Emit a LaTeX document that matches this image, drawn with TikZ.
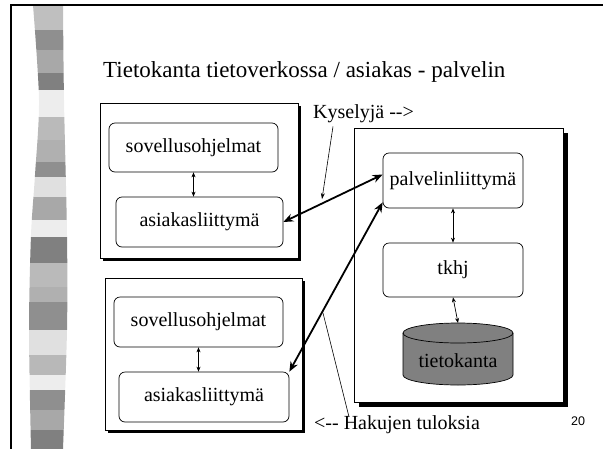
\documentclass[tikz,border=0pt]{standalone}
\usepackage{fontspec}
\setmainfont{Liberation Serif}
\newfontfamily\pagenumfont{Liberation Sans}
\usetikzlibrary{arrows.meta,shadows,calc}

% plain hyphens, kept apart so they do not merge into a dash
\newcommand{\hy}{-\kern0pt}

\begin{document}
\begin{tikzpicture}[x=1pt,y=-1pt,
  panel/.style={draw, fill=white, line width=0.8pt, inner sep=0pt},
  shadowA/.style={general shadow={fill=black, shadow xshift=3pt, shadow yshift=-3pt}},
  shadowB/.style={general shadow={fill=black, shadow xshift=5pt, shadow yshift=-5pt}},
  unit/.style={draw, fill=white, rounded corners=6pt, line width=0.7pt, inner sep=0pt,
    font=\fontsize{20}{24}\selectfont},
  link/.style={line width=0.7pt, {Stealth[length=5pt,width=4pt]}-{Stealth[length=5pt,width=4pt]}},
  net/.style={line width=1.8pt, {Stealth[length=10pt,width=8pt]}-{Stealth[length=10pt,width=8pt]}},
  note/.style={font=\fontsize{20}{24}\selectfont, inner sep=0pt, anchor=base west},
  pointer/.style={line width=0.6pt},
]
\useasboundingbox (0,0) rectangle (603,448);

% decorative stripe on the left
\begin{scope}
  \clip plot[smooth] coordinates {(33,5) (39,100) (35,175) (31,235) (29,330) (31,449)}
     -- plot[smooth] coordinates {(63,449) (67,330) (67,235) (64,100) (63,5)} -- cycle;
  \foreach \ya/\yb/\c in {5/30/25, 30/50/44, 50/73/34, 73/90/50, 90/117/7, 117/140/27,
      140/162/31, 162/177/44, 177/197/12, 197/220/34, 220/237/7, 237/263/50,
      263/287/27, 287/302/31, 302/330/44, 330/355/12, 355/375/28, 375/390/7,
      390/410/44, 410/430/34, 430/449/50}
    \fill[black!\c] (20,\ya) rectangle (80,\yb);
\end{scope}

% slide frame
\draw[line width=2pt] (11,449) -- (11,5) -- (604,5);

% title
\node[note, font=\fontsize{23}{27}\selectfont] (title) at (103,77)
  {Tietokanta tietoverkossa / asiakas \hy\ palvelin};

% client and server panels
\node[panel, shadowA, minimum width=198pt, minimum height=155pt] (client1) at (199,180.5) {};
\node[panel, shadowA, minimum width=197pt, minimum height=152pt] (client2) at (203.5,354) {};
\node[panel, shadowB, minimum width=209pt, minimum height=274pt] (server) at (458.5,265) {};

% client 1
\node[unit, minimum width=169pt, minimum height=49pt] (sov1) at (193.5,147.5) {sovellusohjelmat};
\node[unit, minimum width=167pt, minimum height=50pt] (asi1) at (199.5,222) {asiakasliittymä};
\draw[link] (sov1.south) -- (sov1.south |- asi1.north);

% client 2
\node[unit, minimum width=169pt, minimum height=50pt] (sov2) at (198.5,322) {sovellusohjelmat};
\node[unit, minimum width=170pt, minimum height=50pt] (asi2) at (204,397) {asiakasliittymä};
\draw[link] (sov2.south) -- (sov2.south |- asi2.north);

% server
\node[unit, minimum width=140pt, minimum height=55pt] (pal) at (453,180.5) {palvelinliittymä};
\node[unit, minimum width=140pt, minimum height=54pt] (tkhj) at (453,270) {tkhj};
\fill[black!50] (403,333) -- (403,375)
  arc[start angle=180, end angle=360, x radius=55pt, y radius=10pt]
  -- (513,333) arc[start angle=0, end angle=180, x radius=55pt, y radius=10pt] -- cycle;
\draw[line width=0.7pt] (403,333) -- (403,375)
  arc[start angle=180, end angle=360, x radius=55pt, y radius=10pt]
  -- (513,333) arc[start angle=0, end angle=180, x radius=55pt, y radius=10pt];
\draw[line width=0.7pt] (513,333) arc[start angle=0, end angle=-180, x radius=55pt, y radius=10pt];
\node[font=\fontsize{20}{24}\selectfont, inner sep=0pt] (db) at (458,361) {tietokanta};
\coordinate (dbtop) at (458,323);
\draw[link] (pal.south) -- (tkhj.north);
\draw[link] (tkhj.south) -- (dbtop);

% network traffic
\draw[net] (asi1.east) -- ([yshift=6pt]pal.west);
\draw[net] (asi2.north east) -- ([yshift=6pt]pal.south west);

% annotations
\node[note] (ky) at (313,118) {Kyselyjä \hy\hy>};
\coordinate (kytip) at (322,199);
\draw[pointer, -{Stealth[length=6pt,width=4pt]}] ([xshift=20pt,yshift=-4pt]ky.south west) -- (kytip);

\node[note] (hk) at (314,429) {<\hy\hy\ Hakujen tuloksia};
\coordinate (hkstart) at (323,313);
\draw[pointer] (hkstart) -- ([xshift=35pt,yshift=-2pt]hk.north west);

\node[font=\pagenumfont\fontsize{12.5}{15}\selectfont, inner sep=0pt] (pg) at (578,421.5) {20};
\end{tikzpicture}
\end{document}
